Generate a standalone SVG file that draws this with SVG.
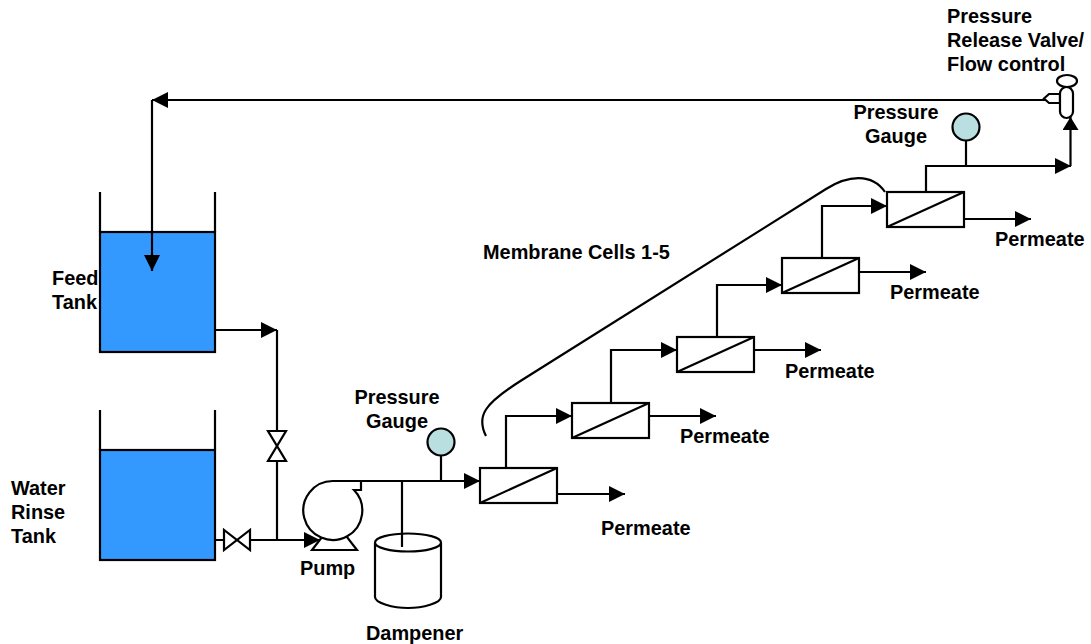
<svg xmlns="http://www.w3.org/2000/svg" width="1091" height="644" viewBox="0 0 1091 644">
<style>
.l{fill:none;stroke:#000;stroke-width:2.200}
.w{fill:#fff;stroke:#000;stroke-width:2.200}
.t{fill:#3399ff;stroke:#000;stroke-width:2.200}
.g{fill:#b9dfe1;stroke:#000;stroke-width:2.200}
text{font-family:"Liberation Sans",Arial,sans-serif;font-size:19.900px;font-weight:bold;fill:#000}
.m{text-anchor:middle}
</style>
<defs>
<marker id="a" markerUnits="userSpaceOnUse" markerWidth="16" markerHeight="16" refX="16" refY="8" orient="auto"><path d="M0 0L16 8L0 16Z" fill="#000"/></marker>
<marker id="u" markerUnits="userSpaceOnUse" markerWidth="13" markerHeight="16" refX="13" refY="8" orient="auto"><path d="M0 0L13 8L0 16Z" fill="#000"/></marker>
<g id="cell"><rect class="w" x="0" y="0" width="77" height="35"/><path class="l" d="M0 35L77 0"/></g>
</defs>
<g id="feed-tank"><rect class="t" x="100" y="232" width="115" height="120"/><path class="l" d="M100 192V232M215 192V232"/></g>
<g id="rinse-tank"><rect class="t" x="100" y="450" width="115" height="110"/><path class="l" d="M100 410V450M215 410V450"/></g>
<g id="pump">
<path class="w" d="M312 550L322 537H347L357 550Z"/>
<path class="w" d="M361 481H333A29.500 29.500 0 1 0 354 490H361Z"/>
</g>
<g id="dampener"><path class="w" d="M375 542.500V597C375 603 393 608 408 608C423 608 441 603 441 597V542.500"/><ellipse class="w" cx="408" cy="542.500" rx="33" ry="9"/></g>
<g id="connectors">
<path class="l" marker-end="url(#a)" d="M1046 100H152"/>
<path class="l" marker-end="url(#a)" d="M152 100V271"/>
<path class="l" marker-end="url(#a)" d="M215 330H277"/>
<path class="l" d="M277 330V540"/>
<path class="l" d="M215 540H224M251 540H277"/>
<path class="l" marker-end="url(#a)" d="M277 540H320"/>
<path class="l" marker-end="url(#a)" d="M360 481H480"/>
<path class="l" d="M441 451V481"/>
<path class="l" d="M402 481V547"/>
<path class="l" marker-end="url(#a)" d="M506 468V416H572"/>
<path class="l" marker-end="url(#a)" d="M611 403V350H677"/>
<path class="l" marker-end="url(#a)" d="M717 337V285H782"/>
<path class="l" marker-end="url(#a)" d="M822 258V206H887"/>
<path class="l" marker-end="url(#a)" d="M926 192V166H1071"/>
<path class="l" marker-end="url(#u)" d="M1070.500 166V117"/>
<path class="l" d="M966 140V166"/>
<path class="l" marker-end="url(#a)" d="M557 494H625"/>
<path class="l" marker-end="url(#a)" d="M649 416H716"/>
<path class="l" marker-end="url(#a)" d="M754 350H821"/>
<path class="l" marker-end="url(#a)" d="M859 272H926"/>
<path class="l" marker-end="url(#a)" d="M964 219H1031"/>
<path class="l" d="M486 436C476 416 484 404 522 380L826 189C848 175 872 173 885 192"/>
</g>
<g id="valve-v"><path class="w" d="M268 431H286L268 461H286Z"/></g>
<g id="valve-h"><path class="w" d="M224 530V550L250 530V550Z"/></g>
<g id="gauge1"><circle class="g" cx="441" cy="442" r="13.500"/></g>
<g id="gauge2"><circle class="g" cx="966" cy="127" r="13.500"/></g>
<g id="relief-valve">
<path class="w" d="M1060 94H1049L1044 98.500L1049 103H1060Z"/>
<rect class="w" x="1060" y="87" width="13" height="31" rx="6.500"/>
<ellipse class="w" cx="1067" cy="81" rx="10" ry="6"/>
</g>
<use id="cell1" href="#cell" x="480" y="468"/>
<use id="cell2" href="#cell" x="572" y="403"/>
<use id="cell3" href="#cell" x="677" y="337"/>
<use id="cell4" href="#cell" x="782" y="258"/>
<use id="cell5" href="#cell" x="887" y="192"/>
<g id="labels">
<text x="947" y="23">Pressure</text>
<text x="947" y="47">Release Valve/</text>
<text x="947" y="71">Flow control</text>
<text class="m" x="896" y="119">Pressure</text>
<text class="m" x="896" y="143">Gauge</text>
<text x="483" y="259">Membrane Cells 1-5</text>
<text x="52" y="285">Feed</text>
<text x="52" y="309">Tank</text>
<text x="11" y="495">Water</text>
<text x="11" y="519">Rinse</text>
<text x="11" y="543">Tank</text>
<text class="m" x="397" y="404">Pressure</text>
<text class="m" x="397" y="428">Gauge</text>
<text x="300" y="575">Pump</text>
<text x="366" y="640">Dampener</text>
<text x="601" y="535">Permeate</text>
<text x="680" y="443">Permeate</text>
<text x="785" y="378">Permeate</text>
<text x="890" y="299">Permeate</text>
<text x="995" y="246">Permeate</text>
</g>
</svg>
